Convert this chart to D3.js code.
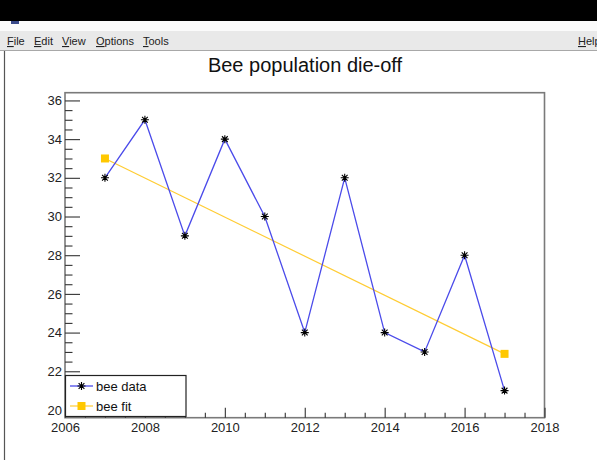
<!DOCTYPE html>
<html>
<head>
<meta charset="utf-8">
<script src="https://cdn.jsdelivr.net/npm/d3@7"></script>
<style>
  html, body { margin: 0; padding: 0; background: #fff; }
  svg { display: block; font-family: "Liberation Sans", Arial, Helvetica, sans-serif; }
</style>
</head>
<body>
<script>
// Yearly bee counts and the straight-line fit drawn over them
const years = [2007, 2008, 2009, 2010, 2011, 2012, 2013, 2014, 2015, 2016, 2017];
const beeData = [32, 35, 29, 34, 30, 24, 32, 24, 23, 28, 21];
const fitYears = [2007, 2017];
const fitValues = [33, 22.9];
const xTickLabels = [2006, 2008, 2010, 2012, 2014, 2016, 2018];
const yTickLabels = [20, 22, 24, 26, 28, 30, 32, 34, 36];
const menuItems = ["File", "Edit", "View", "Options", "Tools"];
const legendItems = ["bee data", "bee fit"];
const titleText = "Bee population die-off";

const W = 597, H = 460;
const frame = { left: 65, right: 544.5, top: 92.7, bottom: 417.7 };

const svg = d3.select("body").append("svg").attr("width", W).attr("height", H);

// ---- window chrome ----
svg.append("rect").attr("x", 0).attr("y", 0).attr("width", W).attr("height", 21).attr("fill", "#000");
svg.append("rect").attr("x", 0).attr("y", 21).attr("width", W).attr("height", 10).attr("fill", "#fbfbfb");
svg.append("rect").attr("x", 11).attr("y", 21).attr("width", 8).attr("height", 3).attr("fill", "#3a4a8a");
svg.append("rect").attr("x", 0).attr("y", 31).attr("width", W).attr("height", 19.5).attr("fill", "#e9e9e9");
svg.append("line").attr("x1", 0).attr("x2", W).attr("y1", 50.5).attr("y2", 50.5).attr("stroke", "#a8a8a8");
svg.append("line").attr("x1", 4.5).attr("x2", 4.5).attr("y1", 51).attr("y2", H).attr("stroke", "#555").attr("stroke-width", 1.2);

const menuX = [7, 34, 62, 96, 143];
const menu = svg.append("g").attr("font-size", 11).attr("fill", "#222");
menuItems.forEach((m, i) => {
  const t = menu.append("text").attr("x", menuX[i]).attr("y", 45);
  t.append("tspan").attr("text-decoration", "underline").text(m[0]);
  t.append("tspan").text(m.slice(1));
});
const help = menu.append("text").attr("x", 578).attr("y", 45);
help.append("tspan").attr("text-decoration", "underline").text("H");
help.append("tspan").text("elp");

// ---- title ----
svg.append("text").attr("x", 305).attr("y", 72).attr("text-anchor", "middle")
  .attr("font-size", 20).attr("fill", "#111").text(titleText);

// ---- scales ----
const x = d3.scaleLinear().domain([2006, 2018]).range([frame.left, frame.right]);
const y = d3.scaleLinear().domain([19.6, 36.4]).range([frame.bottom, frame.top]);

const xMinor = d3.range(2006, 2018.01, 0.5).filter(v => v % 2 !== 0);
const yMinor = d3.range(20, 36.01, 0.5).filter(v => v % 2 !== 0);

// ---- frame ----
svg.append("rect")
  .attr("x", frame.left).attr("y", frame.top)
  .attr("width", frame.right - frame.left).attr("height", frame.bottom - frame.top)
  .attr("fill", "#fff").attr("stroke", "#7a7a7a").attr("stroke-width", 1.6);

// ---- axes (ticks point into the frame) ----
function styleAxis(g) {
  g.select(".domain").remove();
  g.selectAll(".tick line").attr("stroke", "#333").attr("stroke-width", 1.1);
  g.selectAll(".tick text").attr("fill", "#222").attr("font-size", 13)
    .attr("font-family", "'Liberation Sans', Arial, sans-serif");
}

svg.append("g").attr("transform", `translate(0,${frame.bottom})`)
  .call(d3.axisBottom(x).tickValues(xMinor).tickSize(-5).tickFormat(""))
  .call(styleAxis);
svg.append("g").attr("transform", `translate(0,${frame.bottom})`)
  .call(d3.axisBottom(x).tickValues(xTickLabels).tickSize(-10).tickPadding(5).tickFormat(d3.format("d")))
  .call(styleAxis);

svg.append("g").attr("transform", `translate(${frame.left},0)`)
  .call(d3.axisLeft(y).tickValues(yMinor).tickSize(-7.5).tickFormat(""))
  .call(styleAxis);
svg.append("g").attr("transform", `translate(${frame.left},0)`)
  .call(d3.axisLeft(y).tickValues(yTickLabels).tickSize(-15).tickPadding(3).tickFormat(d3.format("d")))
  .call(styleAxis);

// ---- markers ----
const starPath = (cx, cy, r) => {
  const d = r * 0.72;
  return `M${cx - r},${cy}L${cx + r},${cy}M${cx},${cy - r}L${cx},${cy + r}` +
         `M${cx - d},${cy - d}L${cx + d},${cy + d}M${cx - d},${cy + d}L${cx + d},${cy - d}`;
};
const dataColor = "#4b4bea";
const fitColor = "#ffcc33";
const squareColor = "#ffc800";

// ---- fit line ----
const fitPts = fitYears.map((yr, i) => [yr, fitValues[i]]);
const line = d3.line().x(d => x(d[0])).y(d => y(d[1]));
svg.append("path").datum(fitPts).attr("d", line)
  .attr("fill", "none").attr("stroke", fitColor).attr("stroke-width", 1.2);
svg.selectAll(".fitsq").data(fitPts).enter().append("rect")
  .attr("x", d => x(d[0]) - 4).attr("y", d => y(d[1]) - 4)
  .attr("width", 8).attr("height", 8).attr("fill", squareColor);

// ---- data line ----
const dataPts = years.map((yr, i) => [yr, beeData[i]]);
svg.append("path").datum(dataPts).attr("d", line)
  .attr("fill", "none").attr("stroke", dataColor).attr("stroke-width", 1.3);
svg.selectAll(".star").data(dataPts).enter().append("path")
  .attr("d", d => starPath(x(d[0]), y(d[1]), 4))
  .attr("stroke", "#000").attr("stroke-width", 1.1).attr("fill", "none");

// ---- legend ----
const lg = svg.append("g");
lg.append("rect").attr("x", 65.5).attr("y", 375.5).attr("width", 120.5).attr("height", 41)
  .attr("fill", "#fff").attr("stroke", "#222").attr("stroke-width", 1.2);
const rows = [386, 406];
lg.append("line").attr("x1", 70).attr("x2", 93).attr("y1", rows[0]).attr("y2", rows[0])
  .attr("stroke", dataColor).attr("stroke-width", 1.3);
lg.append("path").attr("d", starPath(81.5, rows[0], 4)).attr("stroke", "#000").attr("stroke-width", 1.1);
lg.append("line").attr("x1", 70).attr("x2", 93).attr("y1", rows[1]).attr("y2", rows[1])
  .attr("stroke", fitColor).attr("stroke-width", 1.2);
lg.append("rect").attr("x", 77.5).attr("y", rows[1] - 4).attr("width", 8).attr("height", 8).attr("fill", squareColor);
legendItems.forEach((t, i) => {
  lg.append("text").attr("x", 96).attr("y", rows[i] + 4.5).attr("font-size", 13)
    .attr("fill", "#111").text(t);
});
</script>
</body>
</html>
